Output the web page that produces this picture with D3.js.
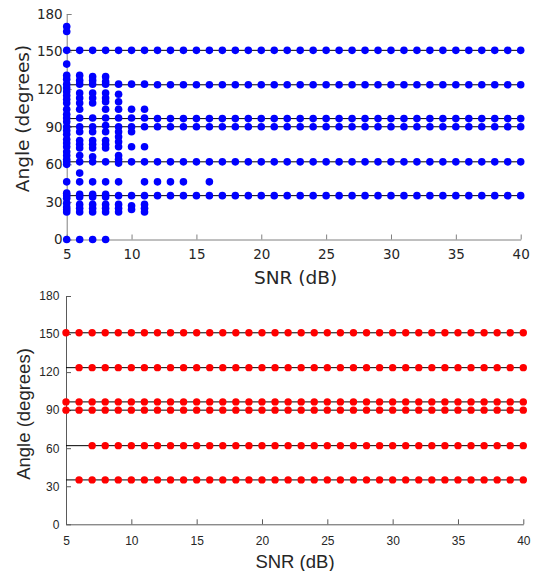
<!DOCTYPE html>
<html><head><meta charset="utf-8">
<script src="https://cdn.jsdelivr.net/npm/d3@7"></script>
<style>body{margin:0;background:#fff}</style>
</head><body>
<script>
// ---------- data ----------
const snr = [5,6,7,8,9,10,11,12,13,14,15,16,17,18,19,20,21,22,23,24,25,26,27,28,29,30,31,32,33,34,35,36,37,38,39,40];
const trueAngles = [35, 62, 90, 96.5, 123.5, 151];
const xTicks = [5, 10, 15, 20, 25, 30, 35, 40];
const yTicks = [0, 30, 60, 90, 120, 150, 180];

// top panel: estimated angles at low SNR (blue)
const topSnrLow = [5, 6, 7, 8, 9, 10, 11];
const topEst5 = [170, 166, 151, 140, 131, 128, 124, 121, 118, 115, 112, 109, 104, 100, 97, 94, 90, 87, 84, 80, 77, 74, 70, 67, 64, 62, 60, 46, 37, 35, 33, 29, 26, 24, 22, 0];
const topEst6 = [151, 131, 127, 124, 117, 113, 109, 104, 97, 90, 86, 79, 76, 73, 67, 62, 53, 46, 36, 34, 28, 25, 22, 0];
const topEst7 = [151, 130, 127, 124, 117, 113, 109, 97, 90, 86, 79, 76, 73, 66, 62, 46, 36, 34, 28, 25, 22, 0];
const topEst8 = [151, 130, 126, 124, 117, 113, 110, 104, 97, 91, 86, 79, 76, 73, 62, 46, 36, 34, 28, 25, 22, 0];
const topEst9 = [151, 124, 116, 110, 104, 97, 90, 86, 82, 78, 74, 67, 64, 61, 46, 35, 28, 25, 22];
const topEst10 = [151, 124, 104, 97, 90, 86, 74, 62, 35, 27, 24];
const topEst11 = [151, 124, 104, 97, 90, 74, 62, 46, 35, 28, 25, 22];
const topExtraSnr = [12, 13, 14, 16];
const topExtraAngle = [46, 46, 46, 46];

// bottom panel: estimated angles (red); angles missing at the lowest SNRs
const bottomMissingAt5 = [35, 62, 123.5];
const bottomMissingAt6 = [62];

// ---------- build point lists ----------
const topLowLists = [topEst5, topEst6, topEst7, topEst8, topEst9, topEst10, topEst11];
const topPoints = [];
snr.forEach(s => {
  const i = topSnrLow.indexOf(s);
  if (i >= 0) topLowLists[i].forEach(a => topPoints.push({s, a}));
  else {
    trueAngles.forEach(a => topPoints.push({s, a}));
    topExtraSnr.forEach((e, k) => { if (e === s) topPoints.push({s, a: topExtraAngle[k]}); });
  }
});
const bottomPoints = [];
snr.forEach(s => {
  trueAngles.forEach(a => {
    if (s === 5 && bottomMissingAt5.includes(a)) return;
    if (s === 6 && bottomMissingAt6.includes(a)) return;
    bottomPoints.push({s, a});
  });
});

// ---------- drawing ----------
const svg = d3.select("body").append("svg").attr("width", 534).attr("height", 571);

function panel(cfg) {
  const x = d3.scaleLinear().domain([5, 40]).range([cfg.x0, cfg.x1]);
  const y = d3.scaleLinear().domain([0, 180]).range([cfg.y0, cfg.y1]);
  const g = svg.append("g");

  const xa = g.append("g").attr("transform", `translate(0,${cfg.y0})`)
    .call(d3.axisBottom(x).tickValues(xTicks).tickFormat(d3.format("d")).tickSizeInner(-5).tickSizeOuter(0).tickPadding(cfg.xPad));
  const ya = g.append("g").attr("transform", `translate(${cfg.x0},0)`)
    .call(d3.axisLeft(y).tickValues(yTicks).tickFormat(d3.format("d")).tickSizeInner(-5).tickSizeOuter(0).tickPadding(cfg.yPad));
  [xa, ya].forEach(a => {
    a.select(".domain").attr("stroke", cfg.axisColor);
    a.selectAll(".tick line").attr("stroke", cfg.axisColor);
    a.selectAll(".tick text").attr("fill", "#262626")
      .style("font-family", cfg.font).style("font-size", cfg.tickSize + "px");
  });

  // reference lines at true angles
  g.append("g").selectAll("line").data(trueAngles).join("line")
    .attr("x1", x(5)).attr("x2", x(40))
    .attr("y1", d => y(d)).attr("y2", d => y(d))
    .attr("stroke", "#000").attr("stroke-width", 1);

  g.append("g").selectAll("circle").data(cfg.points).join("circle")
    .attr("cx", d => x(d.s)).attr("cy", d => y(d.a)).attr("r", cfg.r)
    .attr("fill", cfg.color);

  g.append("text").attr("x", cfg.xlabX).attr("y", cfg.xlabY)
    .attr("text-anchor", "middle").attr("fill", "#262626")
    .style("font-family", cfg.font).style("font-size", cfg.labelSize + "px")
    .text("SNR (dB)");
  g.append("text").attr("transform", `translate(${cfg.ylabX},${cfg.ylabY}) rotate(-90)`)
    .attr("text-anchor", "middle").attr("dy", "0.35em").attr("fill", "#262626")
    .style("font-family", cfg.font).style("font-size", cfg.labelSize + "px")
    .text("Angle (degrees)");
}

panel({
  x0: 66.7, x1: 520.7, y0: 239.5, y1: 14,
  points: topPoints, color: "#0000ff", r: 3.8,
  font: "DejaVu Sans", tickSize: 13.5, labelSize: 18.5, axisColor: "#808080",
  xPad: 10, yPad: 4,
  xlabX: 295.5, xlabY: 284, ylabX: 22.5, ylabY: 118.5
});
panel({
  x0: 66, x1: 523.3, y0: 524.3, y1: 296,
  points: bottomPoints, color: "#ff0000", r: 3.7,
  font: "Liberation Sans", tickSize: 12, labelSize: 18.5, axisColor: "#5a5a5a",
  xPad: 12.5, yPad: 6.7,
  xlabX: 295, xlabY: 567.5, ylabX: 23.5, ylabY: 414
});
</script>
</body></html>
